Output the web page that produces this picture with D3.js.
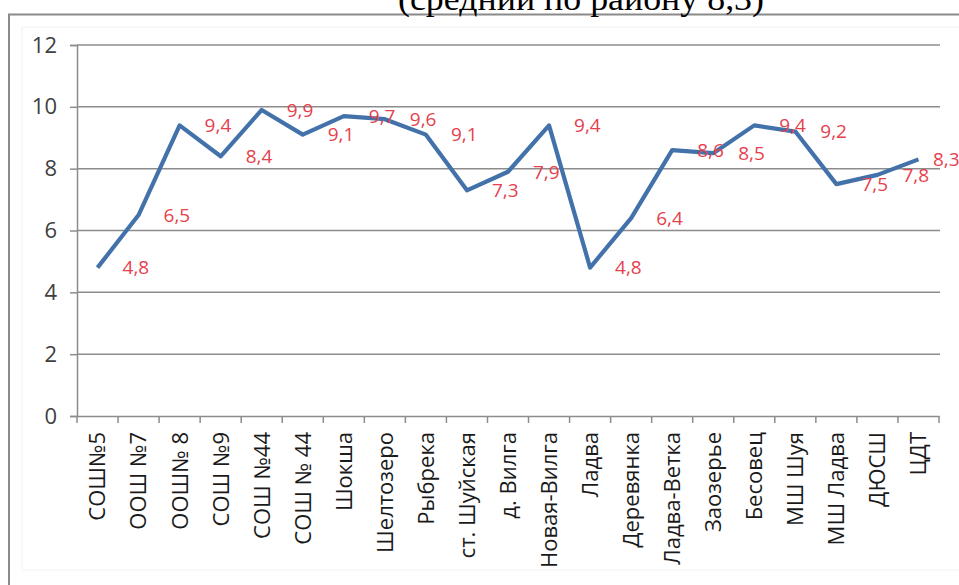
<!DOCTYPE html>
<html><head><meta charset="utf-8">
<script src="https://cdn.jsdelivr.net/npm/d3@7"></script>
<style>body{margin:0;background:#fff;}svg{display:block;}</style>
</head><body>
<script>
const categories = ["СОШ№5","ООШ №7","ООШ№ 8","СОШ №9","СОШ №44","СОШ № 44","Шокша","Шелтозеро","Рыбрека","ст. Шуйская","д. Вилга","Новая-Вилга","Ладва","Деревянка","Ладва-Ветка","Заозерье","Бесовец","МШ Шуя","МШ Ладва","ДЮСШ","ЦДТ"];
const values = [4.8,6.5,9.4,8.4,9.9,9.1,9.7,9.6,9.1,7.3,7.9,9.4,4.8,6.4,8.6,8.5,9.4,9.2,7.5,7.8,8.3];
const yTicks = [0,2,4,6,8,10,12];
const title = "(средний по району  8,3)";

const W = 959, H = 585;
const svg = d3.select("body").append("svg").attr("width", W).attr("height", H);
const font = "'Open Sans', 'Noto Sans', sans-serif";

// frame
svg.append("rect").attr("x",22).attr("y",27).attr("width",W).attr("height",543)
  .attr("fill","none").attr("stroke","#f2f2f2").attr("stroke-width",1);
svg.append("path").attr("d",`M9,${H} V14.5 H${W}`).attr("fill","none").attr("stroke","#8a8a8a").attr("stroke-width",2);

// title (cut at top)
svg.append("text").attr("x",398).attr("y",10).attr("font-family","'Liberation Serif','Times New Roman',serif")
  .attr("font-size",34).attr("fill","#000").attr("textLength",366).attr("lengthAdjust","spacingAndGlyphs").text(title);

const x = d3.scaleBand().domain(categories).range([77,939]).padding(0);
const y = d3.scaleLinear().domain([0,12]).range([416,45]);

// gridlines
svg.append("g").selectAll("line").data(yTicks.filter(d=>d>0)).join("line")
  .attr("x1",77).attr("x2",940).attr("y1",d=>y(d)).attr("y2",d=>y(d))
  .attr("stroke","#8c8c8c").attr("stroke-width",1.5);

// y axis
const yAxis = svg.append("g").attr("transform","translate(77,0)")
  .call(d3.axisLeft(y).tickValues(yTicks).tickSize(7).tickPadding(13).tickFormat(d3.format("d")));
yAxis.select(".domain").attr("stroke","#8c8c8c").attr("stroke-width",1.5);
yAxis.selectAll(".tick line").attr("stroke","#8c8c8c").attr("stroke-width",1.5);
yAxis.selectAll("text").attr("font-family",font).attr("font-size",22).attr("fill","#404040");

// x axis
const xAxis = svg.append("g").attr("transform","translate(0,416)")
  .call(d3.axisBottom(x).tickSize(0).tickSizeOuter(0));
xAxis.select(".domain").attr("stroke","#8c8c8c").attr("stroke-width",1.5);
xAxis.selectAll(".tick text").attr("font-family",font).attr("font-size",22).attr("fill","#1a1a1a")
  .attr("transform","rotate(-90)").attr("text-anchor","end").attr("x",-16).attr("y",0).attr("dy","0.36em");
// tick marks at band boundaries
const bounds = categories.map(c=>x(c)).concat([x(categories[categories.length-1])+x.bandwidth()]);
svg.append("g").selectAll("line").data(bounds).join("line")
  .attr("x1",d=>d).attr("x2",d=>d).attr("y1",416).attr("y2",423)
  .attr("stroke","#8c8c8c").attr("stroke-width",1.5);

// line
const cx = c => x(c) + x.bandwidth()/2;
svg.append("path").datum(values)
  .attr("d", d3.line().x((d,i)=>cx(categories[i])).y(d=>y(d)))
  .attr("fill","none").attr("stroke","#4372aa").attr("stroke-width",4.2).attr("stroke-linejoin","round");

// labels (kept inside the window on the right, as the reference does)
svg.append("g").selectAll("text").data(values).join("text")
  .attr("x",(d,i)=>Math.min(cx(categories[i])+25, W-26)).attr("y",d=>y(d)).attr("dy","0.36em")
  .attr("font-family",font).attr("font-size",19).attr("fill","#e5414d")
  .text(d=>d3.format(".1f")(d).replace(".",","));
</script>
</body></html>
